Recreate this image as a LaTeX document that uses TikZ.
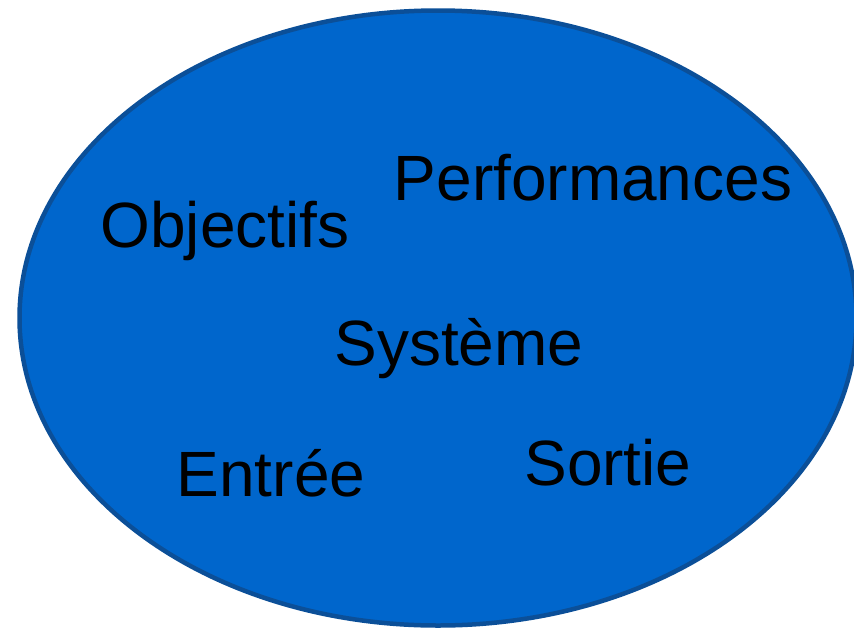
\documentclass[tikz,border=0pt]{standalone}
\usepackage{fontspec}
\setmainfont{Liberation Sans}
\usepackage{xcolor}
\usepackage{tikz}
\usetikzlibrary{positioning}

\definecolor{sysfill}{HTML}{0066CC}
\definecolor{sysline}{HTML}{0B4F98}

\begin{document}
\begin{tikzpicture}[x=1pt, y=-1pt,
			label/.style={font=\fontsize{64}{70}\selectfont, text=black,
					inner sep=0pt, anchor=base},
			boundary/.style={draw=sysline, fill=sysfill, line width=4.5pt}
		]
		\useasboundingbox (0,0) rectangle (854,630);

		% System boundary
		\draw[boundary] (438,318) ellipse [x radius=418.5, y radius=307.5];

		% Labels
		\node[label] (objectifs) at (225,247) {Objectifs};
		\node[label] (perf) at (593,200) {Performances};
		\node[label] (systeme) at (459,365) {Système};
		\node[label] (entree) at (271,496) {Entrée};
		\node[label] (sortie) at (608,485) {Sortie};
	\end{tikzpicture}
\end{document}
